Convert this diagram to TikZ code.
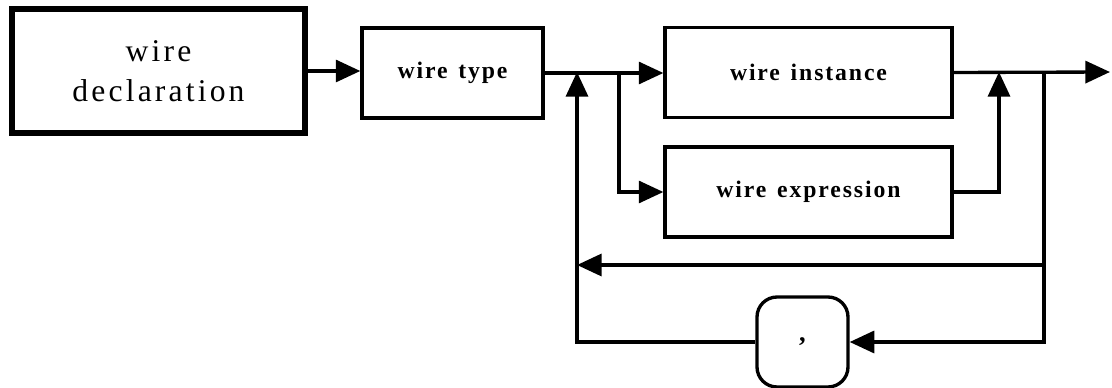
\documentclass[tikz,border=0pt]{standalone}
\usepackage{fontspec}
\setmainfont{Liberation Serif}
\usetikzlibrary{arrows.meta,positioning}
\newcommand{\wgap}{\hspace{.45em}}
\tikzset{declbox/.style={draw,line width=2.9pt,minimum width=5.86cm,minimum height=2.48cm,inner sep=0pt,align=center,font=\fontsize{18}{23}\selectfont\addfontfeature{LetterSpace=10}},
  synbox/.style={draw,line width=1.9pt,inner sep=0pt,minimum height=1.8cm,font=\fontsize{13.5}{16}\selectfont\bfseries\addfontfeature{LetterSpace=8}},
  termbox/.style={draw,line width=1.9pt,rounded corners=0.4cm,inner sep=0pt,minimum width=1.82cm,minimum height=1.8cm,font=\fontsize{15}{16}\selectfont\bfseries},
  flow/.style={line width=1.9pt},
  every picture/.style={>={Triangle[length=14pt,width=12.5pt]}}}

\begin{document}
\begin{tikzpicture}[x=0.02cm,y=-0.02cm]
\useasboundingbox (0,0) rectangle (1112,388);
% Declaration and the productions it consists of.
\node[declbox] (decl) at (158.5,71) {wire\\declaration};
\node[synbox,minimum width=3.62cm] (wtype) at (452.5,73) {wire\wgap type};
\node[synbox,minimum width=5.74cm] (winst) at (808.5,72.5) {wire\wgap instance};
\node[synbox,minimum width=5.74cm] (wexpr) at (808.5,192) {wire\wgap expression};
\node[termbox] (comma) at (802.5,342) {,};
% Junctions on the main line and on the repeat loop.
\coordinate (split) at (577,72);
\coordinate (fork) at (619,72);
\coordinate (merge) at (999,72);
\coordinate (back) at (1044,72);
\coordinate (exit) at (1110,72);
\coordinate (backR) at (1044,265);
\coordinate (backL) at (577,265);
% Main line.
\draw[flow,->] (decl.east) -- (decl.east -| wtype.west);
\draw[flow,->] (wtype.east) -- (wtype.east -| winst.west);
\draw[flow,->] (fork) |- (wexpr.west);
\draw[flow,->] (wexpr.east) -| (merge);
\draw[flow,->] (winst.east) -- (exit);
% Repetition, with or without a comma.
\draw[flow] (back) -- (backR);
\draw[flow,->] (backR) -- (backL);
\draw[flow,->] (backR) |- (comma.east);
\draw[flow,->] (comma.west) -| (split);
\end{tikzpicture}
\end{document}
